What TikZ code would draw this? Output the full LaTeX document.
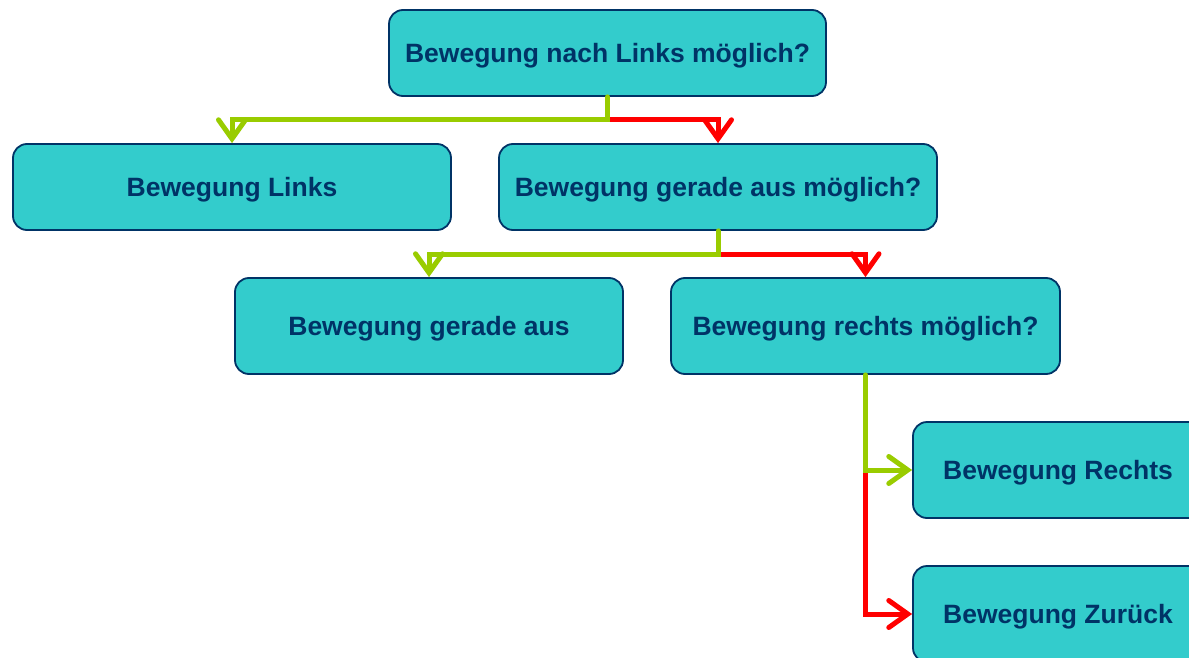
\documentclass[tikz,border=0pt]{standalone}
\usepackage{fontspec}
\setmainfont{Liberation Sans}
\usetikzlibrary{arrows.meta}
\definecolor{boxfill}{RGB}{51,204,204}
\definecolor{boxline}{RGB}{0,51,102}
\definecolor{yesgreen}{RGB}{153,204,0}
\definecolor{nored}{RGB}{255,0,0}
\tikzset{
  box/.style={draw=boxline, line width=1.8pt, fill=boxfill, rounded corners=14pt,
    inner sep=0pt, text=boxline, text height=19pt, text depth=0pt,
    font=\fontsize{26.5}{30}\selectfont\bfseries},
  link/.style={line width=5pt, line cap=round,
    -{Straight Barb[length=19pt,width=27pt,line cap=round]}},
  yes/.style={link, draw=yesgreen},
  no/.style={link, draw=nored},
}
\begin{document}
\begin{tikzpicture}[x=1pt, y=-1pt]
\useasboundingbox (0,0) rectangle (1189,658);
\clip (0,0) rectangle (1189,658);

% decision and action boxes
\node[box, minimum width=437pt, minimum height=86pt] (top) at (607.5,53) {Bewegung nach Links möglich?};
\node[box, minimum width=438pt, minimum height=86pt] (links) at (232,187) {Bewegung Links};
\node[box, minimum width=438pt, minimum height=86pt] (gm) at (718,187) {Bewegung gerade aus möglich?};
\node[box, minimum width=388pt, minimum height=96pt] (ga) at (429,326) {Bewegung gerade aus};
\node[box, minimum width=389pt, minimum height=96pt] (rm) at (865.5,326) {Bewegung rechts möglich?};
\node[box, minimum width=290pt, minimum height=96pt] (re) at (1058,470) {Bewegung Rechts};
\node[box, minimum width=290pt, minimum height=96pt] (zu) at (1058,614) {Bewegung Zurück};

% branch points
\coordinate (j1) at (top.south |- 0,120);
\coordinate (j2) at (gm.south |- 0,254);
\coordinate (j3) at (rm.south |- re.west);

% yes branches in green, no branches in red
\draw[no] (j1) -| (gm.north);
\draw[yes] (top.south) -- (j1) -| (links.north);
\draw[no] (j2) -| (rm.north);
\draw[yes] (gm.south) -- (j2) -| (ga.north);
\draw[no] (j3) |- (zu.west);
\draw[yes] (rm.south) -- (j3) -- (re.west);
\end{tikzpicture}
\end{document}
